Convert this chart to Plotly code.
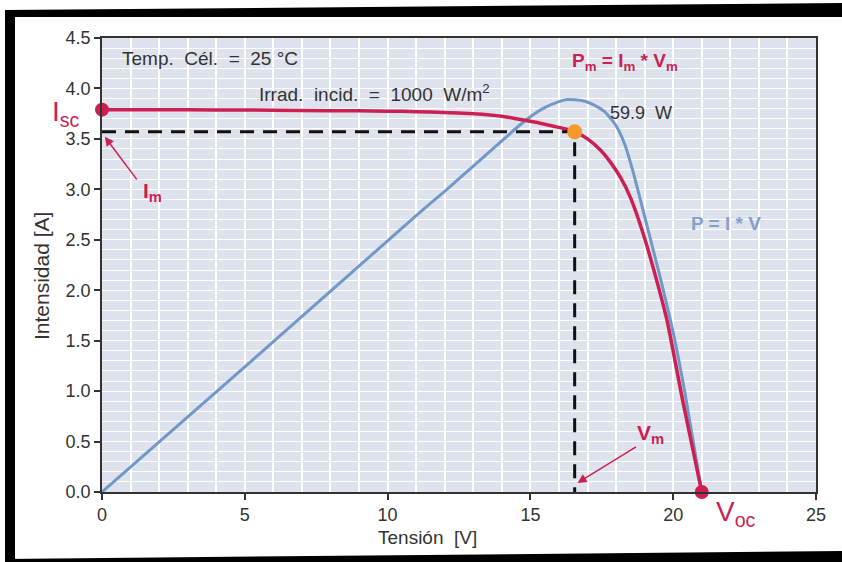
import plotly.graph_objects as go

# I-V curve
iv_v = [0, 2, 4, 6, 8, 10, 11, 12, 13, 14, 14.6, 15.2, 15.8, 16.2, 16.55, 17.0, 17.45, 17.8, 18.15, 18.5, 18.95, 19.4, 19.8, 20.35, 21.0]
iv_i = [3.79, 3.79, 3.787, 3.785, 3.78, 3.775, 3.77, 3.762, 3.75, 3.725, 3.695, 3.665, 3.625, 3.60, 3.57, 3.50, 3.39, 3.27, 3.12, 2.92, 2.56, 2.12, 1.68, 0.88, 0.0]

# P-V curve (scaled onto current axis)
pv_v = [0, 5, 10, 11.1, 12, 13, 14, 14.6, 15.0, 15.5, 16.0, 16.3, 16.8, 17.2, 17.6, 18.0, 18.3, 18.6, 19.1, 19.55, 20.0, 20.4, 21.0]
pv_y = [0, 1.24, 2.49, 2.765, 2.98, 3.23, 3.48, 3.63, 3.72, 3.81, 3.87, 3.89, 3.88, 3.84, 3.77, 3.63, 3.45, 3.17, 2.62, 2.12, 1.58, 1.0, 0.0]

isc = 3.79
voc = 21.0
vm = 16.55
im = 3.57

x_ticks = [0, 5, 10, 15, 20, 25]
y_ticks = [0.0, 0.5, 1.0, 1.5, 2.0, 2.5, 3.0, 3.5, 4.0, 4.5]

RED = "#cc1f52"
BLUE = "#7298c8"
ORANGE = "#f59a2a"
TXT = "#333333"
FONT = "Liberation Sans, Arial, sans-serif"

L, R, T, B = 102, 26, 38, 70
W, H = 842, 562
pw, ph = W - L - R, H - T - B


def xp(px):
    return (px - L) / pw


def yp(py):
    return (H - B - py) / ph


fig = go.Figure()

fig.add_trace(go.Scatter(x=pv_v, y=pv_y, mode="lines",
                         line=dict(color=BLUE, width=3, shape="spline", smoothing=0.5), hoverinfo="skip"))
fig.add_trace(go.Scatter(x=iv_v, y=iv_i, mode="lines",
                         line=dict(color=RED, width=3.5, shape="spline", smoothing=0.5), hoverinfo="skip"))

# dashed lines to max power point
fig.add_trace(go.Scatter(x=[0, vm, vm], y=[im, im, 0], mode="lines",
                         line=dict(color="#111111", width=3, dash="14px,9px"), hoverinfo="skip"))

# markers
fig.add_trace(go.Scatter(x=[0, voc], y=[isc, 0], mode="markers", marker=dict(color=RED, size=14),
                         cliponaxis=False, hoverinfo="skip"))
fig.add_trace(go.Scatter(x=[vm], y=[im], mode="markers", marker=dict(color=ORANGE, size=15),
                         cliponaxis=False, hoverinfo="skip"))

ann = [
    dict(x=xp(120), y=yp(58), text="Temp.  Cél.  =  25 °C", xanchor="left",
         font=dict(size=19, color=TXT, family=FONT)),
    dict(x=xp(257), y=yp(93), text="Irrad.  incid.  =  1000  W/m<sup>2</sup>", xanchor="left",
         font=dict(size=19, color=TXT, family=FONT)),
    dict(x=xp(570), y=yp(62), text="<b>P<sub>m</sub> = I<sub>m</sub> * V<sub>m</sub></b>", xanchor="left",
         font=dict(size=19, color=RED, family=FONT)),
    dict(x=xp(608), y=yp(113), text="59.9  W", xanchor="left",
         font=dict(size=18, color=TXT, family=FONT)),
    dict(x=xp(689), y=yp(224), text="<b>P = I * V</b>", xanchor="left",
         font=dict(size=19, color="#86a0cc", family=FONT)),
    dict(x=xp(50), y=yp(114), text="I<sub>sc</sub>", xanchor="left",
         font=dict(size=28, color=RED, family=FONT)),
    dict(x=xp(714), y=yp(513), text="V<sub>oc</sub>", xanchor="left",
         font=dict(size=28, color=RED, family=FONT)),
    dict(x=xp(141), y=yp(192), text="<b>I<sub>m</sub></b>", xanchor="left",
         font=dict(size=21, color=RED, family=FONT)),
    dict(x=xp(635), y=yp(434), text="<b>V<sub>m</sub></b>", xanchor="left",
         font=dict(size=21, color=RED, family=FONT)),
    dict(x=xp(427), y=yp(537), text="Tensión  [V]", xanchor="center",
         font=dict(size=19, color=TXT, family=FONT)),
    dict(x=xp(41), y=yp(276), text="Intensidad [A]", textangle=-90, xanchor="center",
         font=dict(size=21, color=TXT, family=FONT)),
]
for a in ann:
    a.update(xref="paper", yref="paper", showarrow=False, yanchor="middle")

# arrows
ann += [
    dict(x=0.1, y=3.52, ax=33, ay=44, xref="x", yref="y", axref="pixel", ayref="pixel",
         text="", showarrow=True, arrowhead=2, arrowsize=1.2, arrowwidth=1.5, arrowcolor=RED),
    dict(x=16.65, y=0.09, ax=60, ay=-37, xref="x", yref="y", axref="pixel", ayref="pixel",
         text="", showarrow=True, arrowhead=2, arrowsize=1.2, arrowwidth=1.5, arrowcolor=RED),
]

shapes = [
    # top bar
    dict(type="path", xref="paper", yref="paper",
         path=f"M {xp(5)},{yp(10)} L {xp(842)},{yp(3)} L {xp(842)},{yp(17)} L {xp(5)},{yp(17)} Z",
         fillcolor="black", line=dict(width=0), layer="above"),
    # left bar
    dict(type="rect", xref="paper", yref="paper", x0=xp(5), x1=xp(15), y0=yp(10), y1=yp(562),
         fillcolor="black", line=dict(width=0), layer="above"),
    # bottom bar
    dict(type="path", xref="paper", yref="paper",
         path=f"M {xp(5)},{yp(559)} L {xp(842)},{yp(551)} L {xp(842)},{yp(562)} L {xp(5)},{yp(562)} Z",
         fillcolor="black", line=dict(width=0), layer="above"),
]

fig.update_layout(
    width=W, height=H,
    margin=dict(l=L, r=R, t=T, b=B),
    paper_bgcolor="white",
    plot_bgcolor="#dde2ec",
    showlegend=False,
    font=dict(family=FONT, color=TXT, size=17),
    annotations=ann,
    shapes=shapes,
    xaxis=dict(
        range=[0, 25], tickvals=x_ticks, ticktext=[str(v) for v in x_ticks],
        showgrid=True, gridcolor="white", gridwidth=1.5,
        minor=dict(dtick=1, showgrid=True, gridcolor="white", gridwidth=1.5),
        showline=True, linecolor="#333333", linewidth=1.5, mirror=True,
        ticks="outside", ticklen=6, tickcolor="#333333", tickwidth=1.5,
        zeroline=False, tickfont=dict(size=18, color=TXT),
    ),
    yaxis=dict(
        range=[0, 4.5], tickvals=y_ticks, ticktext=[f"{v:.1f}" for v in y_ticks],
        showgrid=True, gridcolor="white", gridwidth=1.2,
        minor=dict(dtick=0.1, showgrid=True, gridcolor="white", gridwidth=1),
        showline=True, linecolor="#333333", linewidth=1.5, mirror=True,
        ticks="outside", ticklen=6, tickcolor="#333333", tickwidth=1.5,
        zeroline=False, tickfont=dict(size=18, color=TXT),
    ),
)

fig.write_html("out.html")
